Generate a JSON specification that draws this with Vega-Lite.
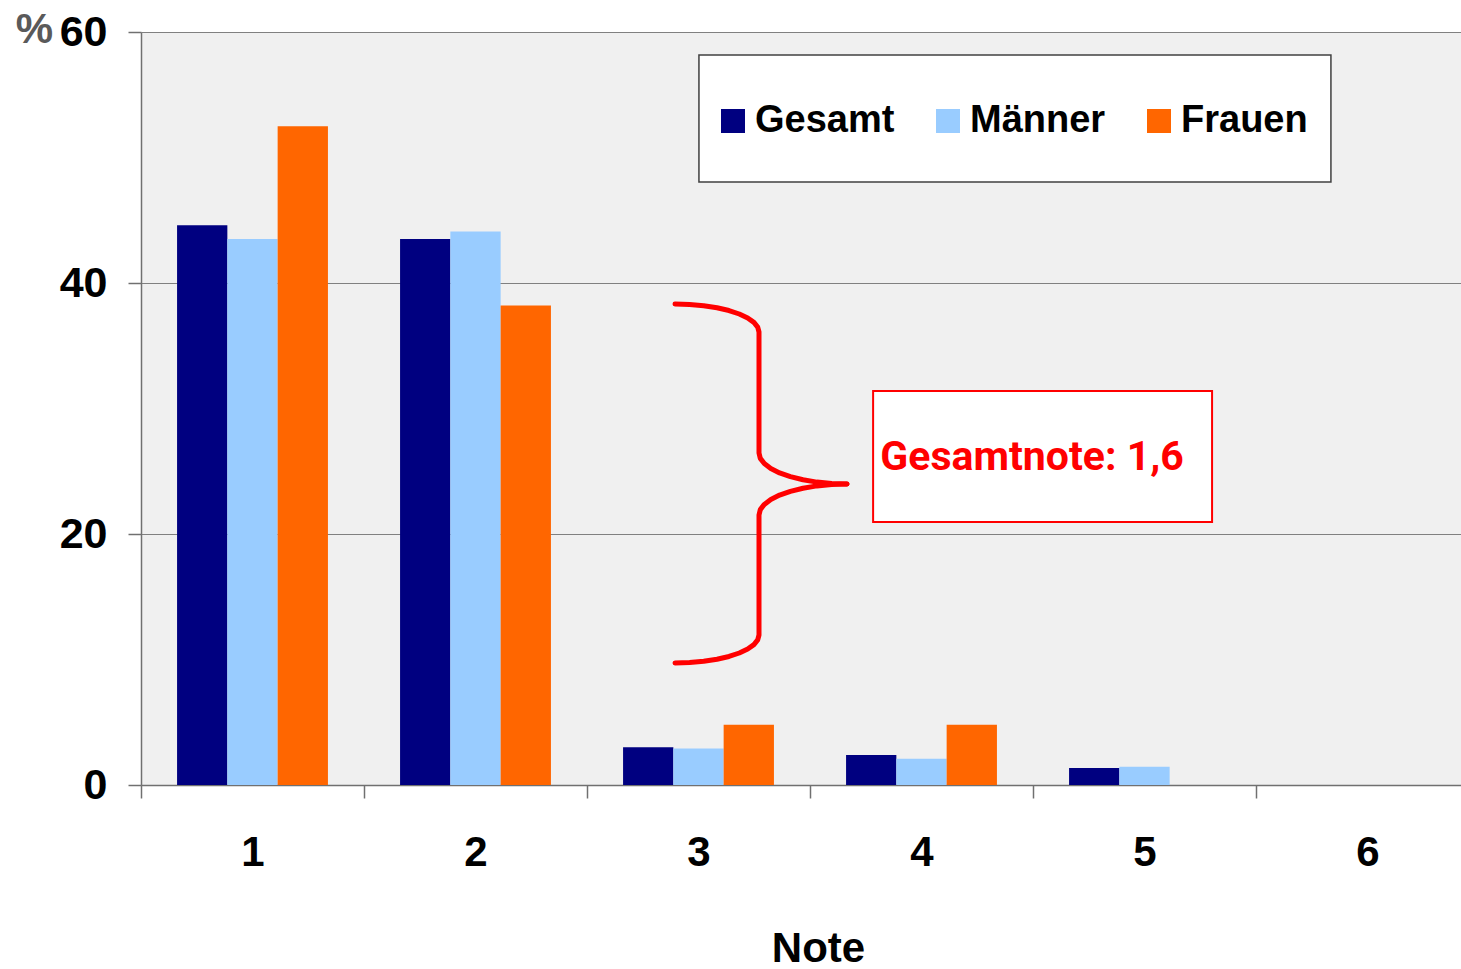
{
  "$schema": "https://vega.github.io/schema/vega-lite/v6.json",
  "width": 1320,
  "height": 753,
  "autosize": "none",
  "padding": {"left": 141, "top": 32, "right": 0, "bottom": 184},
  "background": "white",
  "config": {
    "font": "Liberation Sans",
    "view": {"fill": "#f0f0f0", "stroke": null}
  },
  "datasets": {
    "bars": [
      {"Note": 1, "Gruppe": "Gesamt", "Wert": 44.6},
      {"Note": 1, "Gruppe": "Männer", "Wert": 43.5},
      {"Note": 1, "Gruppe": "Frauen", "Wert": 52.5},
      {"Note": 2, "Gruppe": "Gesamt", "Wert": 43.5},
      {"Note": 2, "Gruppe": "Männer", "Wert": 44.1},
      {"Note": 2, "Gruppe": "Frauen", "Wert": 38.2},
      {"Note": 3, "Gruppe": "Gesamt", "Wert": 3.0},
      {"Note": 3, "Gruppe": "Männer", "Wert": 2.9},
      {"Note": 3, "Gruppe": "Frauen", "Wert": 4.8},
      {"Note": 4, "Gruppe": "Gesamt", "Wert": 2.4},
      {"Note": 4, "Gruppe": "Männer", "Wert": 2.1},
      {"Note": 4, "Gruppe": "Frauen", "Wert": 4.8},
      {"Note": 5, "Gruppe": "Gesamt", "Wert": 1.35},
      {"Note": 5, "Gruppe": "Männer", "Wert": 1.45},
      {"Note": 5, "Gruppe": "Frauen", "Wert": 0},
      {"Note": 6, "Gruppe": "Gesamt", "Wert": 0},
      {"Note": 6, "Gruppe": "Männer", "Wert": 0},
      {"Note": 6, "Gruppe": "Frauen", "Wert": 0}
    ],
    "brace": [
      {"part": "oben", "i": 0, "bx": 2.3946, "Wert": 38.327},
      {"part": "oben", "i": 1, "bx": 2.4601, "Wert": 38.295},
      {"part": "oben", "i": 2, "bx": 2.5233, "Wert": 38.191},
      {"part": "oben", "i": 3, "bx": 2.5830, "Wert": 38.028},
      {"part": "oben", "i": 4, "bx": 2.6368, "Wert": 37.805},
      {"part": "oben", "i": 5, "bx": 2.6830, "Wert": 37.530},
      {"part": "oben", "i": 6, "bx": 2.7206, "Wert": 37.211},
      {"part": "oben", "i": 7, "bx": 2.7484, "Wert": 36.861},
      {"part": "oben", "i": 8, "bx": 2.7655, "Wert": 36.486},
      {"part": "oben", "i": 9, "bx": 2.7713, "Wert": 36.096},
      {"part": "oben", "i": 10, "bx": 2.7713, "Wert": 26.454},
      {"part": "oben", "i": 11, "bx": 2.7771, "Wert": 26.024},
      {"part": "oben", "i": 12, "bx": 2.7951, "Wert": 25.610},
      {"part": "oben", "i": 13, "bx": 2.8242, "Wert": 25.219},
      {"part": "oben", "i": 14, "bx": 2.8637, "Wert": 24.869},
      {"part": "oben", "i": 15, "bx": 2.9121, "Wert": 24.566},
      {"part": "oben", "i": 16, "bx": 2.9686, "Wert": 24.319},
      {"part": "oben", "i": 17, "bx": 3.0309, "Wert": 24.135},
      {"part": "oben", "i": 18, "bx": 3.0973, "Wert": 24.024},
      {"part": "oben", "i": 19, "bx": 3.1659, "Wert": 23.984},
      {"part": "unten", "i": 0, "bx": 3.1659, "Wert": 23.984},
      {"part": "unten", "i": 1, "bx": 3.0973, "Wert": 23.944},
      {"part": "unten", "i": 2, "bx": 3.0309, "Wert": 23.833},
      {"part": "unten", "i": 3, "bx": 2.9686, "Wert": 23.649},
      {"part": "unten", "i": 4, "bx": 2.9121, "Wert": 23.402},
      {"part": "unten", "i": 5, "bx": 2.8637, "Wert": 23.100},
      {"part": "unten", "i": 6, "bx": 2.8242, "Wert": 22.749},
      {"part": "unten", "i": 7, "bx": 2.7951, "Wert": 22.359},
      {"part": "unten", "i": 8, "bx": 2.7771, "Wert": 21.944},
      {"part": "unten", "i": 9, "bx": 2.7713, "Wert": 21.514},
      {"part": "unten", "i": 10, "bx": 2.7713, "Wert": 11.952},
      {"part": "unten", "i": 11, "bx": 2.7655, "Wert": 11.562},
      {"part": "unten", "i": 12, "bx": 2.7484, "Wert": 11.187},
      {"part": "unten", "i": 13, "bx": 2.7206, "Wert": 10.837},
      {"part": "unten", "i": 14, "bx": 2.6830, "Wert": 10.518},
      {"part": "unten", "i": 15, "bx": 2.6368, "Wert": 10.243},
      {"part": "unten", "i": 16, "bx": 2.5830, "Wert": 10.020},
      {"part": "unten", "i": 17, "bx": 2.5233, "Wert": 9.857},
      {"part": "unten", "i": 18, "bx": 2.4601, "Wert": 9.753},
      {"part": "unten", "i": 19, "bx": 2.3946, "Wert": 9.721}
    ],
    "legendbox": [
      {"bx": 2.502, "bx2": 5.336, "Wert": 48.05, "Wert2": 58.17}
    ],
    "notebox": [
      {"bx": 3.283, "bx2": 4.803, "Wert": 20.96, "Wert2": 31.39}
    ],
    "notetext": [
      {"bx": 3.996, "Wert": 25.1, "label": "Gesamtnote: 1,6"}
    ]
  },
  "layer": [
    {
      "data": {"name": "legendbox"},
      "mark": {"type": "rect", "fill": "white", "stroke": "#404040", "strokeWidth": 1.5},
      "encoding": {
        "x": {"field": "bx", "type": "quantitative", "scale": {"domain": [0, 6], "range": [0, 1338], "nice": false, "zero": false}, "axis": null},
        "x2": {"field": "bx2"},
        "y": {"field": "Wert", "type": "quantitative", "title": "%"},
        "y2": {"field": "Wert2"}
      }
    },
    {
      "data": {"name": "bars"},
      "mark": {"type": "bar"},
      "encoding": {
        "x": {
          "field": "Note",
          "type": "ordinal",
          "scale": {"domain": [1, 2, 3, 4, 5, 6], "range": [0, 1338], "paddingInner": 0, "paddingOuter": 0},
          "axis": {
            "title": "Note",
            "titleFontSize": 42,
            "titleFontWeight": "bold",
            "titleColor": "black",
            "titleBaseline": "alphabetic",
            "titleAnchor": "start",
            "titleAlign": "center",
            "titleX": 677,
            "titleY": 176,
            "labelAngle": 0,
            "labelFontSize": 42,
            "labelFontWeight": "bold",
            "labelColor": "black",
            "labelPadding": 34,
            "tickBand": "extent",
            "tickSize": 13,
            "tickColor": "#707070",
            "tickWidth": 1.5,
            "domainColor": "#707070",
            "domainWidth": 1.5,
            "grid": false
          }
        },
        "xOffset": {"field": "Gruppe", "type": "nominal", "sort": ["Gesamt", "Männer", "Frauen"], "scale": {"paddingInner": 0, "paddingOuter": 0.717}},
        "y": {
          "field": "Wert",
          "type": "quantitative",
          "title": "%",
          "scale": {"domain": [0, 60], "nice": false},
          "axis": {
            "values": [0, 20, 40, 60],
            "labelFontSize": 43,
            "labelFontWeight": "bold",
            "labelColor": "black",
            "labelPadding": 21,
            "tickSize": 13,
            "tickColor": "#707070",
            "tickWidth": 1.5,
            "domainColor": "#707070",
            "domainWidth": 1.5,
            "grid": true,
            "gridColor": "#808080",
            "gridWidth": 1,
            "titleAngle": 0,
            "titleAlign": "center",
            "titleBaseline": "alphabetic",
            "titleAnchor": "start",
            "titleX": -107,
            "titleY": 10,
            "titleFontSize": 42,
            "titleFontWeight": "bold",
            "titleColor": "#5a5a5a"
          }
        },
        "color": {
          "field": "Gruppe",
          "type": "nominal",
          "scale": {"domain": ["Gesamt", "Männer", "Frauen"], "range": ["#000080", "#99ccff", "#ff6600"]},
          "legend": {
            "title": null,
            "orient": "none",
            "legendX": 573,
            "legendY": 70,
            "direction": "horizontal",
            "symbolType": "square",
            "symbolSize": 576,
            "symbolStrokeWidth": 0,
            "symbolOpacity": 1,
            "labelFontSize": 38,
            "labelFontWeight": "bold",
            "labelColor": "black",
            "labelOffset": 3,
            "labelLimit": 400,
            "columnPadding": 34,
            "padding": 0
          }
        }
      }
    },
    {
      "data": {"name": "brace"},
      "mark": {"type": "line", "color": "#ff0000", "strokeWidth": 5, "strokeCap": "round", "strokeJoin": "round", "interpolate": "linear"},
      "encoding": {
        "x": {"field": "bx", "type": "quantitative", "scale": {"domain": [0, 6], "range": [0, 1338], "nice": false, "zero": false}, "axis": null},
        "y": {"field": "Wert", "type": "quantitative", "title": "%"},
        "detail": {"field": "part"},
        "order": {"field": "i"}
      }
    },
    {
      "data": {"name": "notebox"},
      "mark": {"type": "rect", "fill": "white", "stroke": "#ff0000", "strokeWidth": 2},
      "encoding": {
        "x": {"field": "bx", "type": "quantitative", "scale": {"domain": [0, 6], "range": [0, 1338], "nice": false, "zero": false}, "axis": null},
        "x2": {"field": "bx2"},
        "y": {"field": "Wert", "type": "quantitative", "title": "%"},
        "y2": {"field": "Wert2"}
      }
    },
    {
      "data": {"name": "notetext"},
      "mark": {"type": "text", "color": "#ff0000", "fontSize": 41, "fontWeight": "bold", "font": "Roboto", "align": "center", "baseline": "alphabetic"},
      "encoding": {
        "x": {"field": "bx", "type": "quantitative", "scale": {"domain": [0, 6], "range": [0, 1338], "nice": false, "zero": false}, "axis": null},
        "y": {"field": "Wert", "type": "quantitative", "title": "%"},
        "text": {"field": "label"}
      }
    }
  ],
  "resolve": {"scale": {"x": "independent"}}
}
